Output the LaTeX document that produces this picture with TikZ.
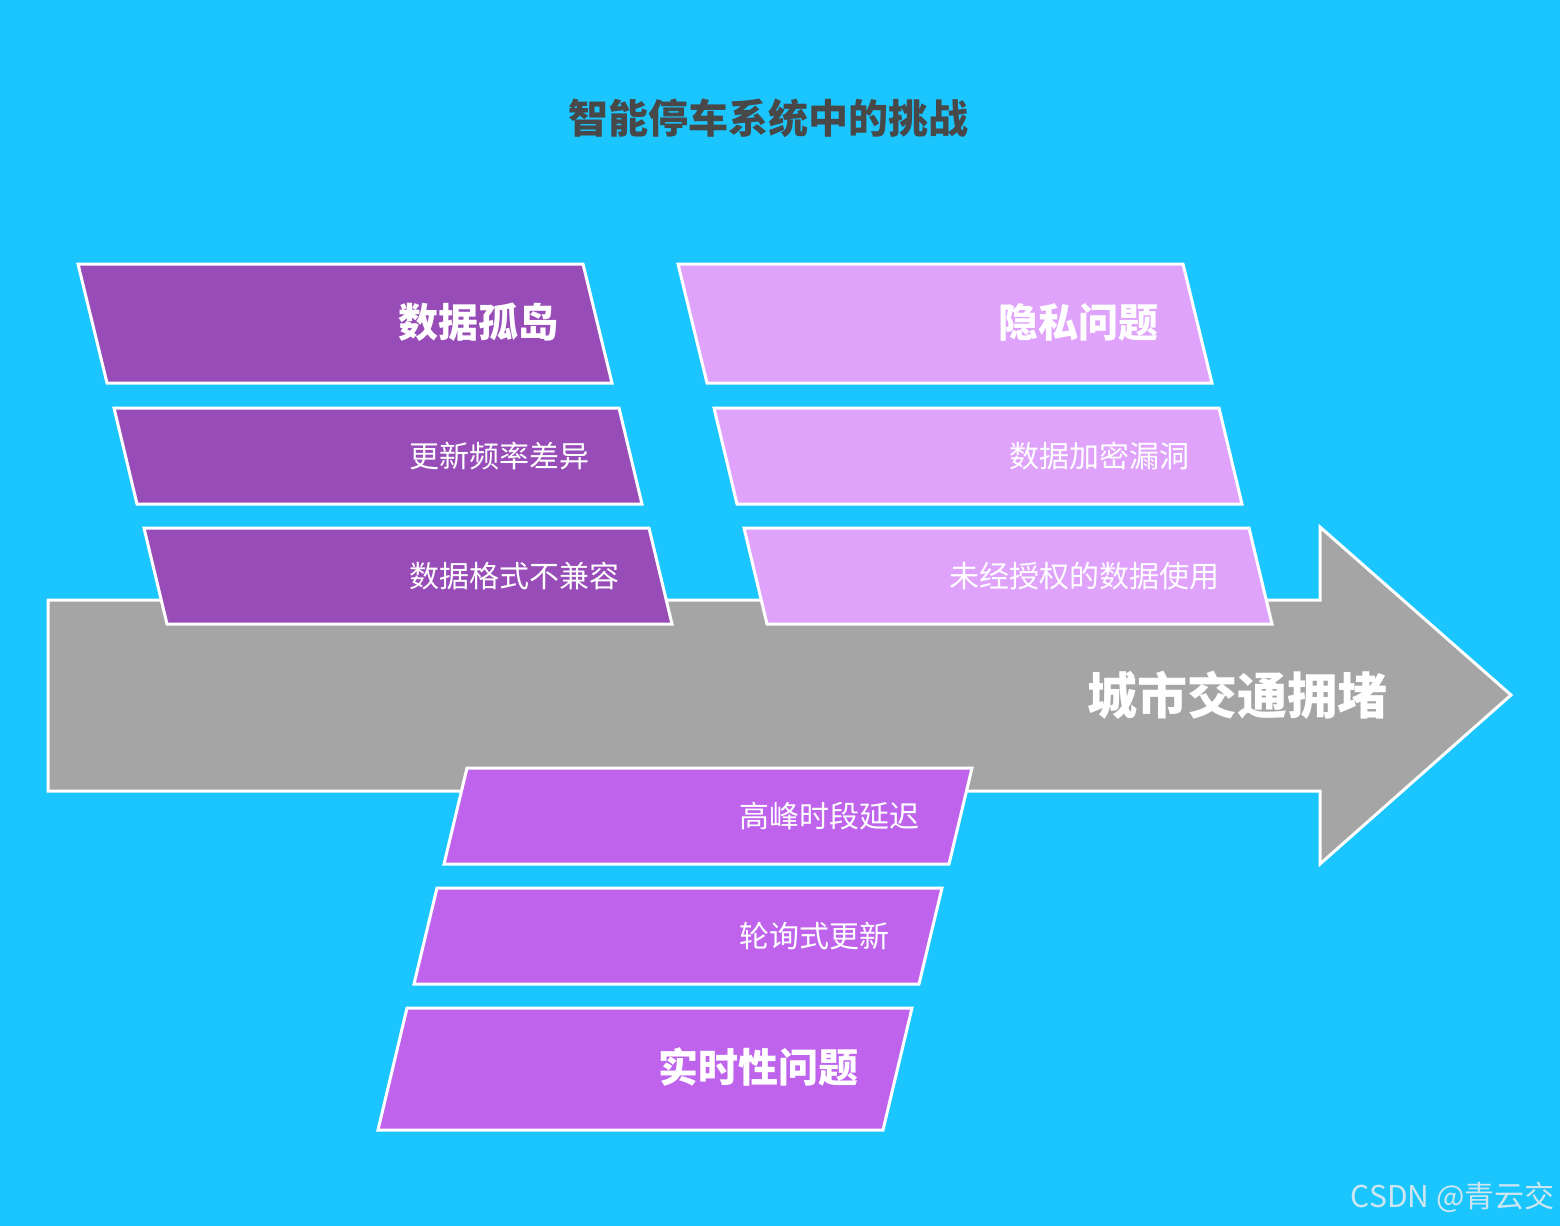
\documentclass[tikz,border=0pt]{standalone}
\usepackage{fontspec}
\setmainfont{Noto Sans CJK SC}
\usetikzlibrary{positioning}

\definecolor{skybg}{HTML}{1BC6FF}
\definecolor{spinegray}{HTML}{A5A5A5}
\definecolor{silopurple}{HTML}{984CB8}
\definecolor{privacylilac}{HTML}{E0A3FC}
\definecolor{realtimeviolet}{HTML}{BF63EC}
\definecolor{titlegray}{HTML}{484848}
\definecolor{markgray}{HTML}{CDE6EF}

\tikzset{
  slab/.style = {draw=white, line width=1.5pt},
  siloslab/.style = {slab, fill=silopurple},
  privacyslab/.style = {slab, fill=privacylilac},
  realtimeslab/.style = {slab, fill=realtimeviolet},
  headtext/.style = {anchor=east, inner sep=0pt, text=white,
    font=\fontsize{20}{24}\selectfont\bfseries},
  itemtext/.style = {anchor=east, inner sep=0pt, text=white,
    font=\fontsize{15}{18}\selectfont},
}

\begin{document}
\begin{tikzpicture}[x=0.5pt,y=-0.5pt]
  % Background
  \fill[skybg] (0,0) rectangle (1560,1226);
  \useasboundingbox (0,0) rectangle (1560,1226);

  % Title
  \node[inner sep=0pt, text=titlegray, font=\fontsize{20}{24}\selectfont\bfseries]
    (title) at (768,118) {智能停车系统中的挑战};

  % Main arrow
  \draw[slab, fill=spinegray] (48,600) -- (1320,600) -- (1320,527) -- (1511,695)
    -- (1320,864) -- (1320,791) -- (48,791) -- cycle;
  \node[headtext, font=\fontsize{25}{30}\selectfont\bfseries]
    (jam) at (1388,695) {城市交通拥堵};

  % Data silos
  \draw[siloslab] (78,264) -- (583,264) -- (612,383) -- (107,383) -- cycle;
  \node[headtext] (silo) at (559,322) {数据孤岛};
  \draw[siloslab] (114,408) -- (619,408) -- (642,504) -- (137,504) -- cycle;
  \node[itemtext] (rate) at (590,456) {更新频率差异};
  \draw[siloslab] (144,528) -- (649,528) -- (672,624) -- (167,624) -- cycle;
  \node[itemtext] (format) at (620,576) {数据格式不兼容};

  % Privacy
  \draw[privacyslab] (678,264) -- (1183,264) -- (1212,383) -- (707,383) -- cycle;
  \node[headtext] (privacy) at (1159,322) {隐私问题};
  \draw[privacyslab] (714,408) -- (1219,408) -- (1242,504) -- (737,504) -- cycle;
  \node[itemtext] (crypto) at (1190,456) {数据加密漏洞};
  \draw[privacyslab] (744,528) -- (1249,528) -- (1272,624) -- (767,624) -- cycle;
  \node[itemtext] (misuse) at (1220,576) {未经授权的数据使用};

  % Real time
  \draw[realtimeslab] (467,768) -- (972,768) -- (949,864) -- (444,864) -- cycle;
  \node[itemtext] (peak) at (920,816) {高峰时段延迟};
  \draw[realtimeslab] (437,888) -- (942,888) -- (919,984) -- (414,984) -- cycle;
  \node[itemtext] (poll) at (890,936) {轮询式更新};
  \draw[realtimeslab] (407,1008) -- (912,1008) -- (883,1130) -- (378,1130) -- cycle;
  \node[headtext] (realtime) at (859,1067) {实时性问题};

  % Watermark
  \node[anchor=east, inner sep=0pt, text=markgray, font=\fontsize{15}{18}\selectfont]
    (mark) at (1555,1197) {CSDN @青云交};
\end{tikzpicture}
\end{document}
